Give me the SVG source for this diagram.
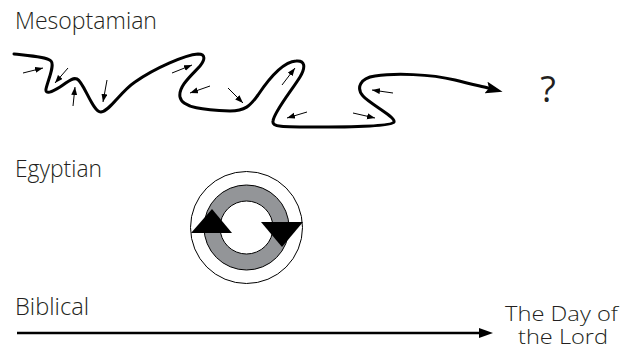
<svg xmlns="http://www.w3.org/2000/svg" width="620" height="349" viewBox="0 0 620 349">
<style>
.lbl{font-family:"Open Sans","Liberation Sans",sans-serif;font-weight:300;font-size:23px;fill:#231f20}
.sm{font-size:21px}
.wave{fill:none;stroke:#000;stroke-width:3;stroke-linecap:round;stroke-linejoin:round}
.small{fill:none;stroke:#000;stroke-width:1}
.ring{fill:none;stroke:#000;stroke-width:1}
</style>
<defs>
<marker id="sa" markerUnits="userSpaceOnUse" markerWidth="9" markerHeight="7" refX="8" refY="3" orient="auto">
<path d="M0,0 L8,3 L0,6 Z" fill="#000"/>
</marker>
<marker id="big" markerUnits="userSpaceOnUse" markerWidth="19" markerHeight="13" refX="2" refY="6" orient="auto">
<path d="M0,0 L17,6 L0,12 L3,6 Z" fill="#000"/>
</marker>
<marker id="line" markerUnits="userSpaceOnUse" markerWidth="15" markerHeight="11" refX="1" refY="5" orient="auto">
<path d="M0,0 L14,5 L0,10 Z" fill="#000"/>
</marker>
</defs>

<g id="mesopotamian">
<text class="lbl" x="15" y="29" textLength="142" lengthAdjust="spacingAndGlyphs">Mesoptamian</text>
<path class="wave" marker-end="url(#big)" d="M14,54 C32,56 47,57 51,61 C55,65 48,80 46,89 C45,95 52,92 60,87 C68,82 72,77 77,79 C84,82 93,113 101,112 C110,111 120,92 135,82 C155,68 185,55 198,54 C206,54 205,60 200,66 C193,74 178,86 180,97 C182,108 205,110 230,111 C245,111 250,106 258,95 C268,80 282,62 296,61 C305,60 306,67 300,77 C292,90 274,112 273,121 C272,127 280,127 320,127 C360,127 392,126 394,122 C396,117 370,104 363,96 C356,88 360,78 375,76 C395,73 430,74 455,80 C470,84 480,86 488,88"/>
<text x="548" y="102" text-anchor="middle" style="font-family:'Open Sans','Liberation Sans',sans-serif;font-size:36px;fill:#231f20">?</text>
</g>

<g id="forces">
<line class="small" marker-end="url(#sa)" x1="23" y1="73" x2="43" y2="68"/>
<line class="small" marker-end="url(#sa)" x1="68" y1="68" x2="55" y2="83"/>
<line class="small" marker-end="url(#sa)" x1="73" y1="106" x2="75" y2="87"/>
<line class="small" marker-end="url(#sa)" x1="107" y1="80" x2="103" y2="102"/>
<line class="small" marker-end="url(#sa)" x1="172" y1="73" x2="192" y2="65"/>
<line class="small" marker-end="url(#sa)" x1="210" y1="86" x2="190" y2="93"/>
<line class="small" marker-end="url(#sa)" x1="228" y1="88" x2="243" y2="103"/>
<line class="small" marker-end="url(#sa)" x1="282" y1="85" x2="295" y2="68"/>
<line class="small" marker-end="url(#sa)" x1="307" y1="112" x2="287" y2="118"/>
<line class="small" marker-end="url(#sa)" x1="353" y1="113" x2="375" y2="118"/>
<line class="small" marker-end="url(#sa)" x1="393" y1="93" x2="372" y2="90"/>
</g>

<g id="egyptian">
<text class="lbl" x="15" y="177" textLength="87" lengthAdjust="spacingAndGlyphs">Egyptian</text>
<circle cx="246.5" cy="227.5" r="56" fill="#fff" stroke="#000" stroke-width="1"/>
<circle cx="246.5" cy="227.5" r="34.5" fill="none" stroke="#939598" stroke-width="16"/>
<circle class="ring" cx="246.5" cy="227.5" r="42.5"/>
<circle class="ring" cx="246.5" cy="227.5" r="26.5"/>
<polygon points="212,209 191,233 232,233" fill="#000"/>
<polygon points="261,222 303,222 282,247" fill="#000"/>
</g>

<g id="biblical">
<text class="lbl" x="15" y="315" textLength="74" lengthAdjust="spacingAndGlyphs">Biblical</text>
<line x1="17" y1="333" x2="480" y2="333" stroke="#000" stroke-width="2.5" marker-end="url(#line)"/>
<text class="lbl sm" x="505" y="321" textLength="113" lengthAdjust="spacingAndGlyphs">The Day of</text>
<text class="lbl sm" x="518" y="344" textLength="90" lengthAdjust="spacingAndGlyphs">the Lord</text>
</g>
</svg>
